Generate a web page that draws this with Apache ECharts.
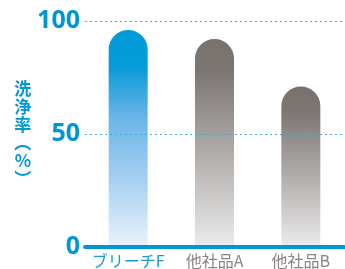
<!DOCTYPE html>
<html>
<head>
<meta charset="utf-8">
<script src="https://cdn.jsdelivr.net/npm/echarts@6/dist/echarts.min.js"></script>
<style>
  html, body { margin: 0; padding: 0; background: #fff; }
  #chart { width: 345px; height: 269px; }
</style>
</head>
<body>
<div id="chart"></div>
<script>
// 製品名と洗浄率（%）
const categories = ['ブリーチF', '他社品A', '他社品B'];
const values = [96, 92, 71];
const yTicks = [0, 50, 100];

const BLUE = '#0096d6';
const FONT = '"Noto Sans CJK JP", "Noto Sans", sans-serif';

const blueGrad = new echarts.graphic.LinearGradient(0, 0, 0, 1, [
    { offset: 0, color: '#009ad9' },
    { offset: 0.17, color: '#069bda' },
    { offset: 0.4, color: '#6ab4e6' },
    { offset: 0.7, color: '#a9d1f1' },
    { offset: 1, color: '#eaf3fc' }
]);
const grayGrad = new echarts.graphic.LinearGradient(0, 0, 0, 1, [
    { offset: 0, color: '#78716e' },
    { offset: 0.15, color: '#7c7673' },
    { offset: 0.55, color: '#b0acaa' },
    { offset: 1, color: '#ececec' }
]);

const chart = echarts.init(document.getElementById('chart'));

chart.setOption({
    animation: false,
    grid: {
        left: 85,
        right: 1,
        top: 21,
        bottom: 22,
        containLabel: false
    },
    xAxis: {
        type: 'category',
        data: categories,
        z: 6,
        axisTick: { show: false },
        axisLine: {
            lineStyle: { color: BLUE, width: 4 }
        },
        axisLabel: {
            interval: 0,
            margin: 6,
            fontFamily: FONT,
            fontSize: 16,
            color: (val) => val === categories[0] ? '#1a9ad6' : '#8a8583'
        }
    },
    yAxis: {
        type: 'value',
        min: 0,
        max: 100,
        interval: 50,
        z: 5,
        axisLine: { show: false },
        axisTick: { show: false },
        axisLabel: {
            margin: 5,
            fontFamily: '"Open Sans", "DejaVu Sans", sans-serif',
            fontWeight: 'bold',
            fontSize: 25,
            color: BLUE,
            formatter: (v) => yTicks.includes(v) ? String(v) : ''
        },
        splitLine: {
            showMinLine: false,
            lineStyle: { color: '#3aaee4', type: [2, 3], width: 1.2 }
        },
        name: '洗\n浄\n率\n︵\n%\n︶',
        nameLocation: 'middle',
        nameRotate: 0,
        nameGap: 52,
        nameTextStyle: {
            fontFamily: FONT,
            fontWeight: 'bold',
            fontSize: 17,
            lineHeight: 18,
            color: BLUE
        }
    },
    series: [{
        type: 'bar',
        barWidth: 39,
        z: 2,
        data: values.map((v, i) => ({
            value: v,
            itemStyle: {
                color: i === 0 ? blueGrad : grayGrad,
                borderRadius: [20, 20, 0, 0]
            }
        }))
    }]
});
</script>
</body>
</html>
